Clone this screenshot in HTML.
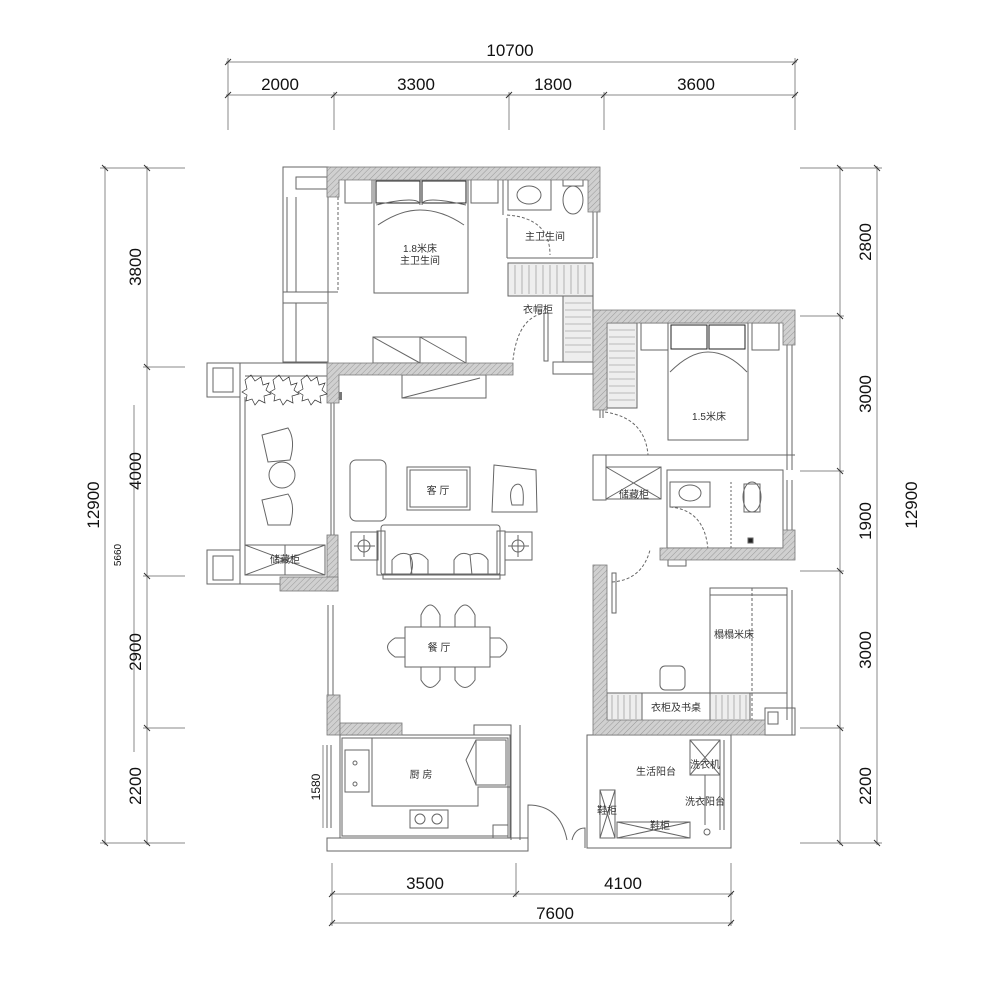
<!DOCTYPE html>
<html><head><meta charset="utf-8"><style>
html,body{margin:0;padding:0;background:#fff;}
svg{display:block;}
text{font-family:"Liberation Sans","Noto Sans CJK SC",sans-serif;}
.cn{font-family:"Noto Serif CJK SC","Noto Sans CJK SC",serif;font-size:10px;fill:#333;}
</style></head><body>
<svg width="1000" height="981" viewBox="0 0 1000 981" xmlns="http://www.w3.org/2000/svg">
<defs>
<pattern id="h" width="4" height="4" patternUnits="userSpaceOnUse" patternTransform="rotate(45)">
<rect width="4" height="4" fill="#d0d0d0"/><line x1="0" y1="0" x2="0" y2="4" stroke="#999" stroke-width="1"/>
</pattern>
</defs>
<g stroke="#888" stroke-width="1" fill="none">
<line x1="226" y1="62" x2="797" y2="62"/>
<line x1="226" y1="95" x2="797" y2="95"/>
<line x1="228" y1="58" x2="228" y2="130"/>
<line x1="334" y1="92" x2="334" y2="130"/>
<line x1="509" y1="92" x2="509" y2="130"/>
<line x1="604" y1="92" x2="604" y2="130"/>
<line x1="795" y1="58" x2="795" y2="130"/>
<line x1="105" y1="166" x2="105" y2="845"/>
<line x1="147" y1="166" x2="147" y2="845"/>
<line x1="100" y1="168" x2="185" y2="168"/>
<line x1="143" y1="367" x2="185" y2="367"/>
<line x1="143" y1="576" x2="185" y2="576"/>
<line x1="143" y1="728" x2="185" y2="728"/>
<line x1="100" y1="843" x2="185" y2="843"/>
<line x1="134" y1="405" x2="134" y2="752"/>
<line x1="840" y1="166" x2="840" y2="845"/>
<line x1="877" y1="166" x2="877" y2="845"/>
<line x1="800" y1="168" x2="882" y2="168"/>
<line x1="800" y1="316" x2="844" y2="316"/>
<line x1="800" y1="471" x2="844" y2="471"/>
<line x1="800" y1="571" x2="844" y2="571"/>
<line x1="800" y1="728" x2="844" y2="728"/>
<line x1="800" y1="843" x2="882" y2="843"/>
<line x1="330" y1="894" x2="733" y2="894"/>
<line x1="330" y1="923" x2="733" y2="923"/>
<line x1="332" y1="863" x2="332" y2="926"/>
<line x1="516" y1="863" x2="516" y2="897"/>
<line x1="731" y1="863" x2="731" y2="926"/>
</g>
<g stroke="#333" stroke-width="1">
<line x1="225" y1="65" x2="231" y2="59"/><line x1="792" y1="65" x2="798" y2="59"/>
<line x1="225" y1="98" x2="231" y2="92"/><line x1="331" y1="98" x2="337" y2="92"/><line x1="506" y1="98" x2="512" y2="92"/><line x1="601" y1="98" x2="607" y2="92"/><line x1="792" y1="98" x2="798" y2="92"/>
<line x1="102" y1="165" x2="108" y2="171"/><line x1="102" y1="840" x2="108" y2="846"/>
<line x1="144" y1="165" x2="150" y2="171"/><line x1="144" y1="364" x2="150" y2="370"/><line x1="144" y1="573" x2="150" y2="579"/><line x1="144" y1="725" x2="150" y2="731"/><line x1="144" y1="840" x2="150" y2="846"/>
<line x1="837" y1="165" x2="843" y2="171"/><line x1="837" y1="313" x2="843" y2="319"/><line x1="837" y1="468" x2="843" y2="474"/><line x1="837" y1="568" x2="843" y2="574"/><line x1="837" y1="725" x2="843" y2="731"/><line x1="837" y1="840" x2="843" y2="846"/>
<line x1="874" y1="165" x2="880" y2="171"/><line x1="874" y1="840" x2="880" y2="846"/>
<line x1="329" y1="897" x2="335" y2="891"/><line x1="513" y1="897" x2="519" y2="891"/><line x1="728" y1="897" x2="734" y2="891"/>
<line x1="329" y1="926" x2="335" y2="920"/><line x1="728" y1="926" x2="734" y2="920"/>
</g>
<g font-size="17" fill="#111" text-anchor="middle">
<text x="510" y="56">10700</text>
<text x="280" y="90">2000</text><text x="416" y="90">3300</text><text x="553" y="90">1800</text><text x="696" y="90">3600</text>
<text x="425" y="889">3500</text><text x="623" y="889">4100</text><text x="555" y="919">7600</text>
<text transform="translate(99,505) rotate(-90)">12900</text>
<text transform="translate(141,267) rotate(-90)">3800</text>
<text transform="translate(141,471) rotate(-90)">4000</text>
<text transform="translate(141,652) rotate(-90)">2900</text>
<text transform="translate(141,786) rotate(-90)">2200</text>
<text transform="translate(871,242) rotate(-90)">2800</text>
<text transform="translate(871,394) rotate(-90)">3000</text>
<text transform="translate(871,521) rotate(-90)">1900</text>
<text transform="translate(871,650) rotate(-90)">3000</text>
<text transform="translate(871,786) rotate(-90)">2200</text>
<text transform="translate(917,505) rotate(-90)">12900</text>
<text font-size="10" transform="translate(121,555) rotate(-90)">5660</text>
<text font-size="12" transform="translate(320,787) rotate(-90)">1580</text>
</g>
<line x1="323" y1="745" x2="323" y2="828" stroke="#888"/>

<g stroke="#666" stroke-width="1" fill="none">
<rect x="283" y="167" width="45" height="195"/>
<rect x="296" y="177" width="31" height="12"/>
<line x1="287" y1="197" x2="287" y2="292"/><line x1="296" y1="197" x2="296" y2="292"/>
<line x1="283" y1="292" x2="338" y2="292"/>
<line x1="283" y1="303" x2="327" y2="303"/><line x1="296" y1="303" x2="296" y2="362"/>
<line x1="338" y1="197" x2="338" y2="292" stroke-dasharray="3,2"/>
<rect x="207" y="363" width="33" height="34"/><rect x="213" y="368" width="20" height="24"/>
<rect x="207" y="550" width="33" height="34"/><rect x="213" y="556" width="20" height="24"/>
<line x1="240" y1="363" x2="327" y2="363"/>
<line x1="240" y1="397" x2="240" y2="550"/><line x1="245" y1="397" x2="245" y2="550"/>
<line x1="245" y1="376" x2="327" y2="376"/>
<line x1="240" y1="584" x2="280" y2="584"/>
<rect x="245" y="545" width="80" height="30"/>
<line x1="245" y1="545" x2="325" y2="575"/><line x1="245" y1="575" x2="325" y2="545"/><line x1="285" y1="545" x2="285" y2="575"/>
<line x1="331" y1="402" x2="331" y2="537"/><line x1="334" y1="402" x2="334" y2="537"/>
<line x1="328" y1="605" x2="328" y2="700"/><line x1="333" y1="605" x2="333" y2="700"/>
<rect x="345" y="178" width="27" height="25"/><rect x="471" y="178" width="27" height="25"/>
<rect x="374" y="178" width="94" height="115"/>
<rect x="376" y="181" width="44" height="22" stroke="#222"/><rect x="422" y="181" width="44" height="22" stroke="#222"/>
<path d="M376 205 Q420 195 420 205 M466 205 Q422 195 422 205 M378 225 Q400 210 420 210 Q442 210 464 225"/>
<rect x="373" y="337" width="93" height="26"/><line x1="420" y1="337" x2="420" y2="363"/>
<line x1="373" y1="337" x2="420" y2="363"/><line x1="420" y1="337" x2="466" y2="363"/>
<rect x="402" y="375" width="84" height="23"/><line x1="402" y1="398" x2="480" y2="378"/>
<rect x="508" y="178" width="43" height="32"/><ellipse cx="529" cy="195" rx="12" ry="9"/>
<rect x="563" y="178" width="20" height="8"/><ellipse cx="573" cy="200" rx="10" ry="14"/>
<line x1="503" y1="178" x2="503" y2="215"/><line x1="507" y1="218" x2="507" y2="258"/>
<line x1="507" y1="258" x2="593" y2="258"/>
<line x1="593" y1="212" x2="593" y2="258"/><line x1="597" y1="212" x2="597" y2="258"/>
<path d="M507 215 Q550 218 550 255" stroke-dasharray="3,2"/>
<rect x="508" y="263" width="85" height="33" fill="#eee"/>
<rect x="563" y="296" width="30" height="66" fill="#eee"/>
<line x1="563" y1="296" x2="563" y2="362"/>
<path d="M546 313 Q518 316 513 360" stroke-dasharray="3,2"/>
<rect x="544" y="313" width="4" height="48"/>
<rect x="553" y="362" width="40" height="12"/>
<rect x="607" y="323" width="30" height="85" fill="#eee"/>
<rect x="641" y="323" width="27" height="27"/><rect x="752" y="323" width="27" height="27"/>
<rect x="668" y="323" width="80" height="117"/>
<rect x="671" y="325" width="36" height="24" stroke="#222"/><rect x="709" y="325" width="36" height="24" stroke="#222"/>
<path d="M670 372 Q690 352 708 352 Q728 352 747 372"/>
<line x1="787" y1="340" x2="787" y2="470"/><line x1="792" y1="340" x2="792" y2="470"/>
<line x1="600" y1="455" x2="795" y2="455"/>
<line x1="600" y1="410" x2="600" y2="418"/><line x1="603" y1="410" x2="603" y2="418"/>
<path d="M605 412 Q645 418 648 455" stroke-dasharray="3,2"/>
<rect x="593" y="455" width="13" height="45"/>
<rect x="606" y="467" width="55" height="32"/><line x1="606" y1="467" x2="661" y2="499"/><line x1="606" y1="499" x2="661" y2="467"/>
<rect x="667" y="470" width="116" height="78"/>
<rect x="670" y="482" width="40" height="25"/><ellipse cx="690" cy="493" rx="11" ry="8"/>
<line x1="731" y1="482" x2="731" y2="548" stroke-dasharray="2,2"/>
<rect x="744" y="484" width="16" height="28"/><ellipse cx="752" cy="497" rx="9" ry="15"/>
<rect x="748" y="538" width="5" height="5" fill="#222"/>
<path d="M670 507 Q705 510 708 550" stroke-dasharray="3,2"/>
<rect x="668" y="552" width="18" height="14"/>
<line x1="783" y1="480" x2="783" y2="548"/><line x1="787" y1="480" x2="787" y2="548"/><line x1="792" y1="480" x2="792" y2="548"/>
<path d="M612 582 Q642 580 650 550" stroke-dasharray="3,2"/>
<rect x="612" y="573" width="4" height="40"/>
<rect x="710" y="588" width="77" height="105"/><line x1="710" y1="595" x2="787" y2="595"/>
<line x1="752" y1="588" x2="752" y2="720" stroke-dasharray="3,2"/>
<line x1="787" y1="590" x2="787" y2="720"/><line x1="792" y1="590" x2="792" y2="735"/>
<rect x="660" y="666" width="25" height="24" rx="5"/>
<rect x="607" y="693" width="35" height="28" fill="#eee"/>
<rect x="710" y="693" width="40" height="28" fill="#eee"/>
<rect x="642" y="693" width="68" height="28"/>
<rect x="765" y="708" width="30" height="27"/><rect x="768" y="712" width="10" height="12"/>
<rect x="587" y="735" width="144" height="113"/>
<rect x="690" y="740" width="30" height="35"/><line x1="690" y1="740" x2="720" y2="775"/><line x1="690" y1="775" x2="720" y2="740"/>
<line x1="705" y1="775" x2="705" y2="825"/><line x1="720" y1="740" x2="720" y2="830"/><line x1="724" y1="740" x2="724" y2="830"/>
<rect x="600" y="790" width="15" height="48"/><line x1="600" y1="790" x2="615" y2="838"/><line x1="615" y1="790" x2="600" y2="838"/>
<rect x="617" y="822" width="73" height="16"/><line x1="617" y1="822" x2="690" y2="838"/><line x1="617" y1="838" x2="690" y2="822"/>
<circle cx="707" cy="832" r="3"/>
<path d="M528 840 L528 805 Q560 805 567 840"/><path d="M572 840 Q575 828 585 828 L585 848"/>
<rect x="350" y="460" width="36" height="61" rx="6"/>
<rect x="407" y="467" width="63" height="43"/><rect x="410" y="470" width="57" height="37"/>
<path d="M494 465 L536 470 L537 512 L492 512 Z"/><path d="M515 485 Q525 480 523 505 L512 505 Q508 490 515 485Z"/>
<rect x="381" y="525" width="119" height="50" rx="3"/><rect x="377" y="531" width="8" height="44"/><rect x="497" y="531" width="8" height="44"/>
<path d="M392 560 Q400 550 410 555 Q415 565 410 575 L392 575Z M410 555 Q420 550 428 560 L428 575 L412 575Z M454 560 Q460 550 470 555 L472 575 L454 575Z M470 555 Q482 550 488 560 L488 575 L472 575Z"/>
<rect x="383" y="574" width="117" height="5"/>
<rect x="351" y="532" width="27" height="28"/><circle cx="364" cy="546" r="6"/><line x1="354" y1="546" x2="375" y2="546"/><line x1="364" y1="535" x2="364" y2="557"/>
<rect x="505" y="532" width="27" height="28"/><circle cx="518" cy="546" r="6"/><line x1="508" y1="546" x2="529" y2="546"/><line x1="518" y1="535" x2="518" y2="557"/>
<path d="M262 435 L288 428 Q296 440 290 460 L268 462 Z"/><circle cx="282" cy="475" r="13"/><path d="M262 500 L288 494 Q296 505 290 525 L268 525 Z"/>
<rect x="405" y="627" width="85" height="40"/>
<path d="M421 627 L421 615 Q430 595 440 615 L440 627 M455 627 L455 615 Q465 595 475 615 L475 627 M421 667 L421 680 Q430 695 440 680 L440 667 M455 667 L455 680 Q465 695 475 680 L475 667 M405 638 L395 638 Q380 647 395 657 L405 657 M490 638 L500 638 Q514 647 500 657 L490 657"/>
<rect x="340" y="735" width="170" height="103"/><rect x="342" y="738" width="166" height="98"/>
<path d="M372 738 L372 806 L478 806 L478 787 L510 787"/>
<rect x="345" y="750" width="24" height="42"/><circle cx="355" cy="763" r="2"/><circle cx="355" cy="784" r="2"/>
<rect x="410" y="810" width="38" height="18"/><circle cx="420" cy="819" r="5"/><circle cx="437" cy="819" r="5"/>
<path d="M476 740 L466 760 L476 785" /><rect x="476" y="740" width="30" height="45"/>
<rect x="474" y="725" width="37" height="10"/>
<rect x="493" y="825" width="15" height="13"/>
<line x1="327" y1="745" x2="327" y2="828"/><line x1="331" y1="745" x2="331" y2="828"/>
<rect x="327" y="838" width="201" height="13"/>
<line x1="511" y1="735" x2="511" y2="840"/><line x1="520" y1="725" x2="520" y2="840"/>
</g>

<g fill="url(#h)" stroke="#777" stroke-width="0.8">
<path d="M327 167 L600 167 L600 212 L588 212 L588 180 L339 180 L339 197 L327 197 Z"/>
<path d="M327 363 L513 363 L513 375 L339 375 L339 403 L327 403 Z"/>
<rect x="327" y="535" width="11" height="56"/>
<rect x="280" y="577" width="58" height="14"/>
<rect x="327" y="695" width="13" height="40"/>
<rect x="340" y="723" width="62" height="12"/>
<path d="M593 310 L795 310 L795 345 L783 345 L783 323 L607 323 L607 410 L593 410 Z"/>
<path d="M593 565 L607 565 L607 720 L765 720 L765 735 L593 735 Z"/>
<path d="M660 548 L783 548 L783 530 L795 530 L795 560 L660 560 Z"/>
</g>
<rect x="339" y="392" width="3" height="8" fill="#777"/>

<g stroke="#333" stroke-width="0.7" fill="none">
<path d="M245 380 l6 -5 l4 6 l6 -4 l2 8 l6 -2 l-3 7 l5 4 l-7 2 l1 7 l-6 -3 l-4 5 l-3 -6 l-6 2 l1 -6 l-5 -3 l5 -3 Z"/>
<path d="M273 380 l6 -5 l4 6 l6 -4 l2 8 l6 -2 l-3 7 l5 4 l-7 2 l1 7 l-6 -3 l-4 5 l-3 -6 l-6 2 l1 -6 l-5 -3 l5 -3 Z"/>
<path d="M301 380 l6 -5 l4 6 l6 -4 l2 8 l6 -2 l-3 7 l5 4 l-7 2 l1 7 l-6 -3 l-4 5 l-3 -6 l-6 2 l1 -6 l-5 -3 l5 -3 Z"/>
</g>
<g stroke="#888" stroke-width="0.6">
<line x1="515" y1="265" x2="515" y2="294"/><line x1="522" y1="265" x2="522" y2="294"/><line x1="529" y1="265" x2="529" y2="294"/><line x1="536" y1="265" x2="536" y2="294"/><line x1="543" y1="265" x2="543" y2="294"/><line x1="550" y1="265" x2="550" y2="294"/><line x1="557" y1="265" x2="557" y2="294"/><line x1="564" y1="265" x2="564" y2="294"/><line x1="571" y1="265" x2="571" y2="294"/><line x1="578" y1="265" x2="578" y2="294"/><line x1="585" y1="265" x2="585" y2="294"/>
<line x1="565" y1="303" x2="591" y2="303"/><line x1="565" y1="310" x2="591" y2="310"/><line x1="565" y1="317" x2="591" y2="317"/><line x1="565" y1="324" x2="591" y2="324"/><line x1="565" y1="331" x2="591" y2="331"/><line x1="565" y1="338" x2="591" y2="338"/><line x1="565" y1="345" x2="591" y2="345"/><line x1="565" y1="352" x2="591" y2="352"/>
<line x1="609" y1="330" x2="635" y2="330"/><line x1="609" y1="337" x2="635" y2="337"/><line x1="609" y1="344" x2="635" y2="344"/><line x1="609" y1="351" x2="635" y2="351"/><line x1="609" y1="358" x2="635" y2="358"/><line x1="609" y1="365" x2="635" y2="365"/><line x1="609" y1="372" x2="635" y2="372"/><line x1="609" y1="379" x2="635" y2="379"/><line x1="609" y1="386" x2="635" y2="386"/><line x1="609" y1="393" x2="635" y2="393"/><line x1="609" y1="400" x2="635" y2="400"/>
<line x1="612" y1="695" x2="612" y2="719"/><line x1="618" y1="695" x2="618" y2="719"/><line x1="624" y1="695" x2="624" y2="719"/><line x1="630" y1="695" x2="630" y2="719"/><line x1="636" y1="695" x2="636" y2="719"/>
<line x1="716" y1="695" x2="716" y2="719"/><line x1="722" y1="695" x2="722" y2="719"/><line x1="728" y1="695" x2="728" y2="719"/><line x1="734" y1="695" x2="734" y2="719"/><line x1="740" y1="695" x2="740" y2="719"/><line x1="746" y1="695" x2="746" y2="719"/>
</g>

<g class="cn" text-anchor="middle">
<text x="420" y="252">1.8米床</text><text x="420" y="264">主卫生间</text>
<text x="545" y="240">主卫生间</text>
<text x="538" y="313">衣帽柜</text>
<text x="709" y="420">1.5米床</text>
<text x="438" y="494">客 厅</text>
<text x="634" y="498">储藏柜</text>
<text x="285" y="563">储藏柜</text>
<text x="439" y="651">餐 厅</text>
<text x="734" y="638">榻榻米床</text>
<text x="676" y="711">衣柜及书桌</text>
<text x="421" y="778">厨 房</text>
<text x="656" y="775">生活阳台</text>
<text x="705" y="768">洗衣机</text>
<text x="705" y="805">洗衣阳台</text>
<text x="607" y="814">鞋柜</text>
<text x="660" y="829">鞋柜</text>
</g>
</svg>
</body></html>
